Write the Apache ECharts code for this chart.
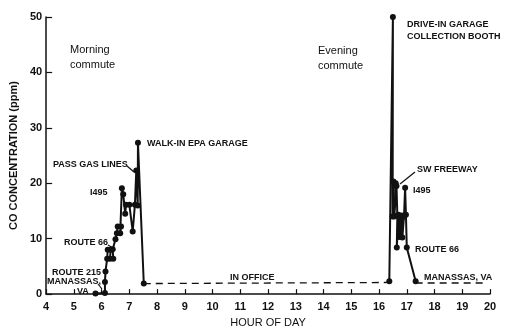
<!DOCTYPE html>
<html>
<head>
<meta charset="utf-8">
<script src="https://cdn.jsdelivr.net/npm/echarts@6/dist/echarts.min.js"></script>
<style>
  html, body { margin: 0; padding: 0; background: #fff; }
  #chart { width: 510px; height: 333px; }
</style>
</head>
<body>
<div id="chart"></div>
<script>
// Hourly axis and concentration axis
const hourTicks = [4, 5, 6, 7, 8, 9, 10, 11, 12, 13, 14, 15, 16, 17, 18, 19, 20];
const ppmTicks = [0, 10, 20, 30, 40, 50];

// Morning commute readings: [hour of day, CO ppm]
const morningHours = [5.78, 6.12, 6.12, 6.14, 6.2, 6.22, 6.33, 6.3, 6.42, 6.4, 6.5, 6.55, 6.58, 6.7, 6.67, 6.73, 6.78, 6.85, 6.88, 7.0, 7.12, 7.2, 7.25, 7.3, 7.31, 7.52];
const morningPpm   = [0.1, 0.2, 2.2, 4.1, 6.4, 8.0, 8.0, 6.4, 6.4, 8.1, 9.9, 11.0, 12.2, 12.2, 11.0, 19.1, 18.0, 14.5, 16.1, 16.1, 11.3, 16.1, 22.3, 16.0, 27.3, 1.9];

// Evening commute readings
const eveningHours = [16.37, 16.5, 16.49, 16.52, 16.6, 16.55, 16.63, 16.66, 16.64, 16.7, 16.72, 16.76, 16.78, 16.82, 16.84, 16.9, 16.94, 16.97, 17.0, 17.32];
const eveningPpm   = [2.3, 50.0, 14.0, 20.3, 20.0, 14.0, 19.5, 14.2, 8.4, 14.3, 10.3, 14.0, 10.4, 14.2, 10.2, 14.0, 19.2, 14.3, 8.4, 2.3];

// In-office and at-home background levels (dashed)
const officeHours = [7.52, 16.37];
const officePpm   = [1.9, 2.1];
const homeHours   = [17.32, 19.88];
const homePpm     = [2.0, 2.0];

const zip = (xs, ys) => xs.map((x, i) => [x, ys[i]]);

const labelFont = 'bold 9px "Liberation Sans", Arial, sans-serif';
const noteFont = '11px "Liberation Sans", Arial, sans-serif';

function note(text, x, y, font) {
  return { type: 'text', x: x, y: y, style: { text: text, font: font || labelFont, fill: '#111', textVerticalAlign: 'middle' } };
}
function leader(x1, y1, x2, y2) {
  return { type: 'line', shape: { x1: x1, y1: y1, x2: x2, y2: y2 }, style: { stroke: '#111', lineWidth: 1.2 } };
}

const chart = echarts.init(document.getElementById('chart'), null, { renderer: 'canvas' });
chart.setOption({
  backgroundColor: '#fff',
  animation: false,
  grid: { left: 46, right: 20, top: 17, bottom: 34 },
  xAxis: {
    type: 'value', min: hourTicks[0], max: hourTicks[hourTicks.length - 1], interval: 1,
    name: 'HOUR OF DAY', nameLocation: 'middle', nameGap: 22,
    nameTextStyle: { color: '#111', fontSize: 11, fontFamily: 'Liberation Sans' },
    axisLine: { lineStyle: { color: '#111', width: 1.5 } },
    axisTick: { inside: true, length: 5, lineStyle: { color: '#111', width: 1.2 } },
    axisLabel: { color: '#111', fontSize: 11, fontWeight: 'bold', fontFamily: 'Liberation Sans', margin: 7 },
    splitLine: { show: false }
  },
  yAxis: {
    type: 'value', min: ppmTicks[0], max: ppmTicks[ppmTicks.length - 1], interval: 10,
    name: 'CO CONCENTRATION (ppm)', nameLocation: 'middle', nameGap: 27,
    nameTextStyle: { color: '#111', fontSize: 11, fontWeight: 'bold', fontFamily: 'Liberation Sans' },
    axisLine: { show: true, lineStyle: { color: '#111', width: 1.5 } },
    axisTick: { show: true, inside: true, length: 6, lineStyle: { color: '#111', width: 1.2 } },
    axisLabel: { color: '#111', fontSize: 11, fontWeight: 'bold', fontFamily: 'Liberation Sans', margin: 4 },
    splitLine: { show: false }
  },
  series: [
    {
      type: 'line', data: zip(officeHours, officePpm), symbol: 'none',
      lineStyle: { color: '#111', width: 1.3, type: [7, 5] }
    },
    {
      type: 'line', data: zip(homeHours, homePpm), symbol: 'none',
      lineStyle: { color: '#111', width: 1.3, type: [7, 5] }
    },
    {
      type: 'line', data: zip(morningHours, morningPpm), symbol: 'circle', symbolSize: 6,
      itemStyle: { color: '#111' }, lineStyle: { color: '#111', width: 2 }
    },
    {
      type: 'line', data: zip(eveningHours, eveningPpm), symbol: 'circle', symbolSize: 6,
      itemStyle: { color: '#111' }, lineStyle: { color: '#111', width: 2 }
    }
  ],
  graphic: [
    note('Morning', 70, 50, noteFont),
    note('commute', 70, 65, noteFont),
    note('Evening', 318, 51, noteFont),
    note('commute', 318, 66, noteFont),
    note('WALK-IN EPA GARAGE', 147, 144),
    note('PASS GAS LINES', 53, 165),
    leader(127, 166, 134, 172),
    note('I495', 90, 193),
    note('ROUTE 66', 64, 243),
    leader(108, 245, 113, 248),
    note('ROUTE 215', 52, 273),
    note('MANASSAS,', 47, 282),
    leader(98, 284, 102, 289),
    note('VA', 77, 292),
    note('IN OFFICE', 230, 278),
    note('DRIVE-IN GARAGE', 407, 25),
    note('COLLECTION BOOTH', 407, 37),
    note('SW FREEWAY', 417, 170),
    leader(415, 172, 400, 184),
    note('I495', 413, 191),
    note('ROUTE 66', 415, 250),
    note('MANASSAS, VA', 424, 278)
  ]
});
</script>
</body>
</html>
